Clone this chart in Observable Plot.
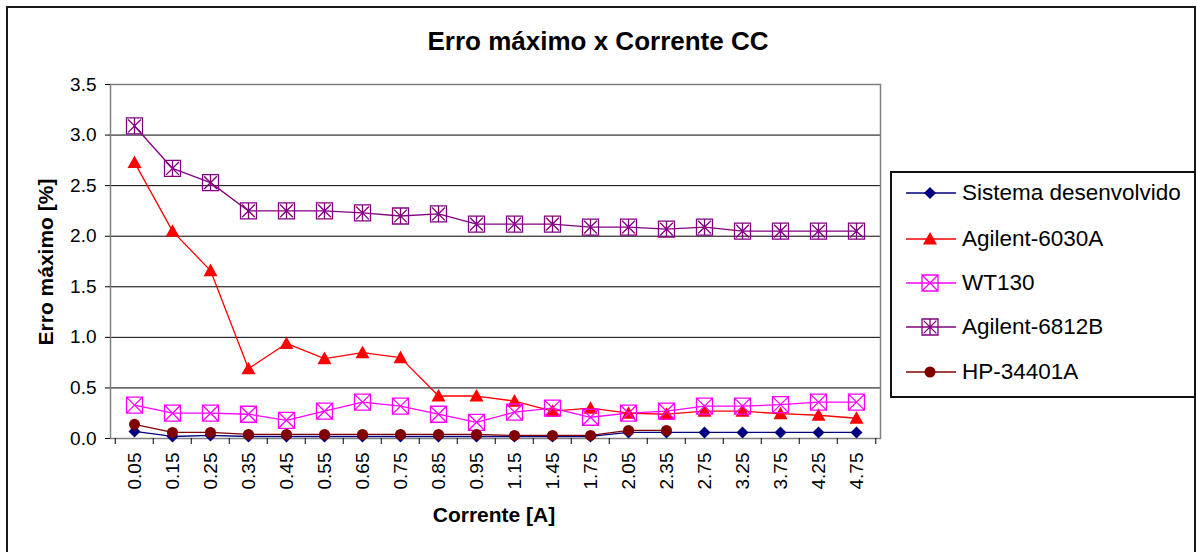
<!DOCTYPE html>
<html><head><meta charset="utf-8">
<script src="https://cdn.jsdelivr.net/npm/d3@7"></script>
<script src="https://cdn.jsdelivr.net/npm/@observablehq/plot@0.6"></script>
<style>
html,body{margin:0;padding:0;background:#fff;overflow:hidden;}
#wrap{position:relative;width:1197px;height:552px;overflow:hidden;font-family:"Liberation Sans",Arial,sans-serif;color:#000;}
#border{position:absolute;left:6px;top:6px;width:1190px;height:600px;border:2px solid #1a1a1a;box-sizing:border-box;}
#chart{position:absolute;left:0;top:0;}
.t{position:absolute;white-space:nowrap;line-height:1;}
#title{left:598px;top:27.5px;transform:translateX(-50%);font-weight:bold;font-size:26px;}
#xlab{left:494px;top:504px;transform:translateX(-50%);font-weight:bold;font-size:21px;}
#ylab{left:45px;top:262px;transform:translate(-50%,-50%) rotate(-90deg);font-weight:bold;font-size:21px;}
#legend{position:absolute;left:890px;top:171px;width:306px;height:227px;border:2px solid #111;box-sizing:border-box;background:#fff;}
.lg{font-size:22.5px;}
</style>
</head><body>
<div id="wrap">
  <div id="border"></div>
  <div id="chart"></div>
  <div class="t" id="title">Erro máximo x Corrente CC</div>
  <div class="t" id="xlab">Corrente [A]</div>
  <div class="t" id="ylab">Erro máximo [%]</div>
  <div id="legend"></div>
</div>
<script>
// ---- Data ----
const correntes = ["0.05","0.15","0.25","0.35","0.45","0.55","0.65","0.75","0.85","0.95","1.15","1.45","1.75","2.05","2.35","2.75","3.25","3.75","4.25","4.75"];
const sistemaDesenvolvido = [0.07,0.02,0.03,0.02,0.02,0.02,0.02,0.02,0.02,0.02,0.02,0.02,0.02,0.06,0.06,0.06,0.06,0.06,0.06,0.06];
const agilent6030A = [2.73,2.05,1.66,0.69,0.94,0.79,0.85,0.80,0.42,0.42,0.37,0.27,0.30,0.25,0.24,0.27,0.27,0.245,0.23,0.20];
const wt130 = [0.33,0.25,0.25,0.24,0.18,0.27,0.36,0.32,0.24,0.16,0.26,0.30,0.21,0.25,0.27,0.32,0.32,0.335,0.36,0.36];
const agilent6812B = [3.09,2.67,2.53,2.25,2.25,2.25,2.23,2.20,2.22,2.12,2.12,2.12,2.09,2.09,2.07,2.09,2.05,2.05,2.05,2.05];
const hp34401A = [0.14,0.06,0.06,0.04,0.04,0.04,0.04,0.04,0.04,0.04,0.03,0.03,0.03,0.08,0.08];
const seriesNames = ["Sistema desenvolvido","Agilent-6030A","WT130","Agilent-6812B","HP-34401A"];
const seriesColors = ["#000080","#FF0000","#FF00FF","#800080","#800000"];
const yTicks = [0,0.5,1.0,1.5,2.0,2.5,3.0,3.5];

// ---- Custom marker symbols ----
const rad = s => Math.sqrt(s / Math.PI);
const diamondSym = {draw(c, s){const r = rad(s); c.moveTo(0,-r); c.lineTo(r,0); c.lineTo(0,r); c.lineTo(-r,0); c.closePath();}};
const triangleSym = {draw(c, s){const r = rad(s); c.moveTo(0,-r); c.lineTo(r,r*0.8); c.lineTo(-r,r*0.8); c.closePath();}};
const squareXSym = {draw(c, s){const r = rad(s); c.rect(-r,-r,2*r,2*r); c.moveTo(-r,-r); c.lineTo(r,r); c.moveTo(r,-r); c.lineTo(-r,r);}};
const squareAstSym = {draw(c, s){const r = rad(s); c.rect(-r,-r,2*r,2*r); c.moveTo(-r*0.8,-r*0.8); c.lineTo(r*0.8,r*0.8); c.moveTo(r*0.8,-r*0.8); c.lineTo(-r*0.8,r*0.8); c.moveTo(0,-r); c.lineTo(0,r);}};
const circleSym = {draw(c, s){const r = rad(s); c.moveTo(r,0); c.arc(0,0,r,0,2*Math.PI);}};

const styles = [
  {symbol: diamondSym, r: 6, filled: true},
  {symbol: triangleSym, r: 7, filled: true},
  {symbol: squareXSym, r: 8, filled: false},
  {symbol: squareAstSym, r: 8, filled: false},
  {symbol: circleSym, r: 5.5, filled: true}
];
const seriesValues = [sistemaDesenvolvido, agilent6030A, wt130, agilent6812B, hp34401A];
const rows = seriesValues.map((vals, k) => vals.map((v, i) => ({serie: seriesNames[k], corrente: correntes[i], erro: v})));

// ---- Layout ----
const W = 1197, H = 552;
const mL = 110, mR = 317, mT = 84, mB = 114;
const step = (W - mL - mR) / correntes.length;

const marks = [
  Plot.gridY(yTicks.filter(t => t > 0 && t < 3.5), {stroke: "#000", strokeOpacity: 1, strokeWidth: 1}),
  Plot.frame({stroke: "#808080", strokeWidth: 1.5}),
  Plot.axisY(yTicks, {tickSize: 5, tickPadding: 9, tickFormat: d => d.toFixed(1), fontSize: 19, line: true, stroke: "#000", label: null}),
  Plot.axisX(correntes, {tickSize: 0, tickRotate: -90, tickPadding: 14, fontSize: 19, line: true, stroke: "#000", label: null}),
  Plot.axisX(correntes, {text: null, tickSize: 6, dx: -step / 2, stroke: "#000", label: null}),
  Plot.axisX(correntes.slice(-1), {text: null, tickSize: 6, dx: step / 2, stroke: "#000", label: null})
];
rows.forEach((r, k) => {
  marks.push(Plot.line(r, {x: "corrente", y: "erro", stroke: seriesColors[k], strokeWidth: 1.3}));
});
rows.forEach((r, k) => {
  const st = styles[k];
  marks.push(Plot.dot(r, {
    x: "corrente", y: "erro", symbol: () => st.symbol, r: st.r,
    fill: st.filled ? seriesColors[k] : "none",
    stroke: st.filled ? "none" : seriesColors[k],
    strokeWidth: 1.3
  }));
});

const chart = Plot.plot({
  width: W, height: H,
  marginLeft: mL, marginRight: mR, marginTop: mT, marginBottom: mB,
  style: {fontFamily: "Liberation Sans, Arial, sans-serif", color: "#000", background: "transparent", overflow: "visible"},
  x: {type: "point", domain: correntes, padding: 0.5, axis: null},
  y: {domain: [0, 3.5], axis: null},
  symbol: {type: "identity"},
  marks
});
document.getElementById("chart").appendChild(chart);

// ---- Legend ----
const legend = document.getElementById("legend");
const legendCenters = [193, 239, 283, 327, 372];
seriesNames.forEach((name, k) => {
  const cy = legendCenters[k] - 171 - 2;
  const st = styles[k];
  const path = d3.symbol(st.symbol, st.r * st.r * Math.PI)();
  const svg = `<svg width="52" height="24" style="position:absolute;left:${906-892}px;top:${cy-12}px;overflow:visible">
    <line x1="0" y1="12" x2="50" y2="12" stroke="${seriesColors[k]}" stroke-width="1.3"/>
    <path transform="translate(24,12)" d="${path}" fill="${st.filled ? seriesColors[k] : 'none'}" stroke="${st.filled ? 'none' : seriesColors[k]}" stroke-width="1.3"/>
  </svg>`;
  legend.insertAdjacentHTML("beforeend", svg);
  const span = document.createElement("div");
  span.className = "t lg";
  span.textContent = name;
  span.style.left = (962 - 892) + "px";
  span.style.top = (cy - 0.4885 * 22.5) + "px";
  legend.appendChild(span);
});
</script>
</body></html>
